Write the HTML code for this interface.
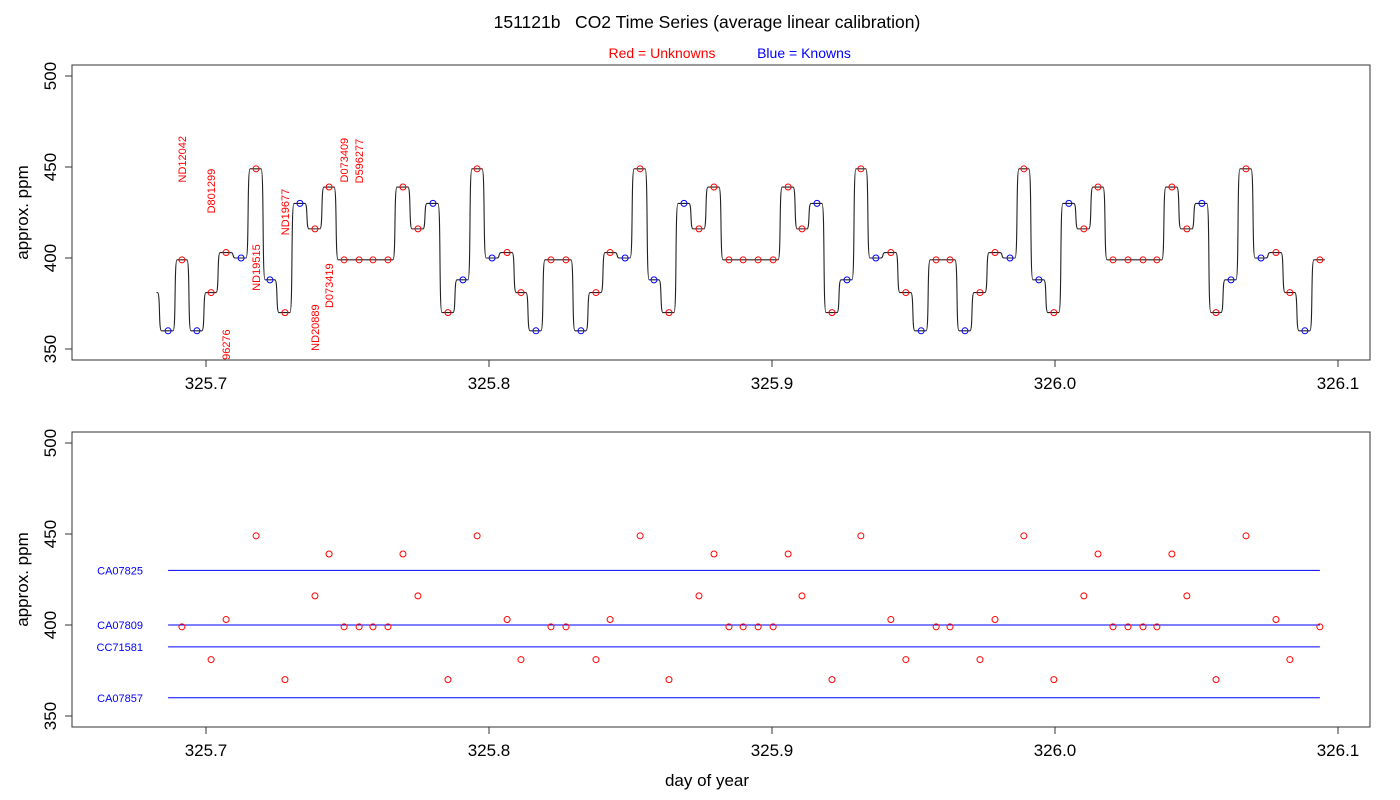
<!DOCTYPE html>
<html><head><meta charset="utf-8"><style>
html,body{margin:0;padding:0;background:#fff;}
svg{display:block;font-family:"Liberation Sans",sans-serif;}
</style></head><body>
<svg id="chart" width="1400" height="800" viewBox="0 0 1400 800">
<text x="707" y="28" font-size="17.5" text-anchor="middle" fill="#000" xml:space="preserve">151121b   CO2 Time Series (average linear calibration)</text>
<text x="662" y="58" font-size="14" text-anchor="middle" fill="#ff0000">Red = Unknowns</text>
<text x="804" y="58" font-size="14" text-anchor="middle" fill="#0000ff">Blue = Knowns</text>
<g id="toppanel"></g>
<g id="botpanel"></g>
<text x="707" y="786" font-size="17" text-anchor="middle">day of year</text>
</svg>
<script>
const times = [325.6866,325.6915,325.6968,325.7018,325.7071,325.7124,325.7177,325.7226,325.7279,325.7332,325.7385,325.7435,325.7488,325.7541,325.7590,325.7643,325.7696,325.7749,325.7802,325.7855,325.7908,325.7958,325.8011,325.8064,325.8113,325.8166,325.8219,325.8272,325.8325,325.8378,325.8428,325.8481,325.8534,325.8583,325.8636,325.8689,325.8742,325.8795,325.8848,325.8898,325.8951,325.9004,325.9057,325.9106,325.9159,325.9212,325.9265,325.9314,325.9367,325.9420,325.9473,325.9527,325.9580,325.9629,325.9682,325.9735,325.9788,325.9841,325.9890,325.9943,325.9996,326.0049,326.0102,326.0152,326.0205,326.0258,326.0311,326.0360,326.0413,326.0466,326.0519,326.0569,326.0622,326.0675,326.0728,326.0781,326.0830,326.0883,326.0936];
const values = [360,399,360,381,403,400,449,388,370,430,416,439,399,399,399,399,439,416,430,370,388,449,400,403,381,360,399,399,360,381,403,400,449,388,370,430,416,439,399,399,399,399,439,416,430,370,388,449,400,403,381,360,399,399,360,381,403,400,449,388,370,430,416,439,399,399,399,399,439,416,430,370,388,449,400,403,381,360,399];
const startTime = 325.6825, startValue = 381;
const sampleLabels = ["ND12042","D801299","96276","ND19515","ND19677","ND20889","D073419","D073409","D596277"];
const labelTimes = [325.6915,325.7018,325.7071,325.7177,325.7279,325.7385,325.7435,325.7488,325.7541];
const labelBottoms = [441.5,424.5,344,382,412.5,349,372.5,441.5,441];
const knownNames = ["CA07825","CA07809","CC71581","CA07857"];
const knownValues = [430,400,388,360];
const xTicks = [325.7,325.8,325.9,326.0,326.1];
const xTickLabels = ["325.7","325.8","325.9","326.0","326.1"];
const yTicks = [350,400,450,500];
const yTickLabels = ["350","400","450","500"];

const NS="http://www.w3.org/2000/svg";
const X0=72,X1=1370;
function xs(t){return 206+(t-325.7)*2830;}
function mk(tag,attrs,parent){const e=document.createElementNS(NS,tag);for(const k in attrs)e.setAttribute(k,attrs[k]);parent.appendChild(e);return e;}
function isKnown(v){return knownValues.indexOf(v)>=0;}

function panel(g,pTop,pBottom,y500,y350){
  const ys=v=>y350-(v-350)*(y350-y500)/150;
  const box=mk('rect',{x:X0,y:pTop,width:X1-X0,height:pBottom-pTop,fill:'none',stroke:'#333','stroke-width':1},g);
  
  
  yTicks.forEach((v,i)=>{
    const y=ys(v);
    const tk=mk('line',{x1:X0-7,x2:X0,y1:y,y2:y,stroke:'#333'},g);
    
    
    const tl=mk('text',{x:0,y:0,'font-size':17,'text-anchor':'middle',transform:`translate(56,${y}) rotate(-90)`},g);
    tl.textContent=yTickLabels[i];
    
    
  });
  xTicks.forEach((t,i)=>{
    const x=xs(t);
    const tk=mk('line',{x1:x,x2:x,y1:pBottom,y2:pBottom+7,stroke:'#333'},g);
    
    
    const tl=mk('text',{x:x,y:pBottom+29,'font-size':17,'text-anchor':'middle'},g);
    tl.textContent=xTickLabels[i];
    
    
  });
  const at=mk('text',{x:0,y:0,'font-size':17,'text-anchor':'middle',transform:`translate(28,${(pTop+pBottom)/2}) rotate(-90)`},g);
  at.textContent='approx. ppm';
  
  
  return ys;
}

const gTop=document.getElementById('toppanel');
const ysT=panel(gTop,65,360,76,349);
let d=`M${xs(startTime)},${ysT(startValue)}`;
let prevY=ysT(startValue);
for(let i=0;i<times.length;i++){
  const xStart=(i===0?xs(startTime)+1:xs(times[i-1])+5);
  const y=ysT(values[i]);
  d+=` L${xStart},${prevY} C${xStart+3},${prevY} ${xStart+1},${y} ${xStart+4},${y} L${xs(times[i])+5},${y}`;
  prevY=y;
}
const line=mk('path',{d:d,fill:'none',stroke:'#222','stroke-width':1.1},gTop);


times.forEach((t,i)=>{
  const k=isKnown(values[i]);
  const c=mk('circle',{cx:xs(t),cy:ysT(values[i]),r:3,fill:'none',stroke:k?'#0000ff':'#ff0000','stroke-width':1},gTop);
  
  
});
sampleLabels.forEach((s,i)=>{
  const tx=mk('text',{x:0,y:0,'font-size':11,fill:'#ff0000','text-anchor':'start',transform:`translate(${xs(labelTimes[i])+4},${ysT(labelBottoms[i])}) rotate(-90)`},gTop);
  tx.textContent=s;
  
  
});

const gBot=document.getElementById('botpanel');
const ysB=panel(gBot,432,727,443,716);
knownValues.forEach((v,i)=>{
  const l=mk('line',{x1:xs(times[0]),x2:xs(times[times.length-1]),y1:ysB(v),y2:ysB(v),stroke:'#0000ff','stroke-width':1},gBot);
  
  
  const tx=mk('text',{x:143,y:ysB(v)+4,'font-size':11,fill:'#0000ff','text-anchor':'end'},gBot);
  tx.textContent=knownNames[i];
  
  
});
times.forEach((t,i)=>{
  if(isKnown(values[i]))return;
  const c=mk('circle',{cx:xs(t),cy:ysB(values[i]),r:3,fill:'none',stroke:'#ff0000','stroke-width':1},gBot);
  
  
});
</script>
</body></html>
